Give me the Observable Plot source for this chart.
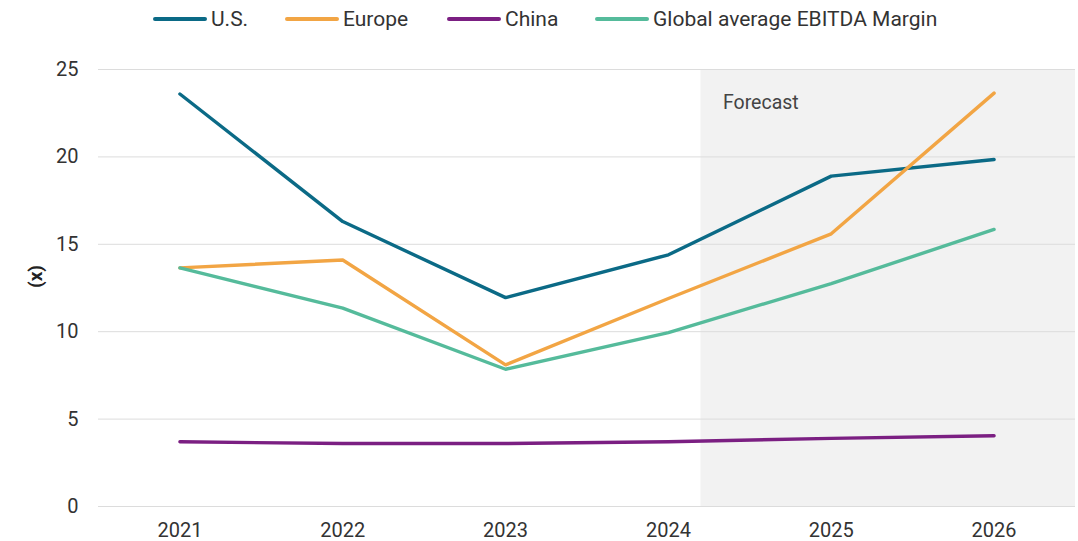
<!DOCTYPE html>
<html>
<head>
<meta charset="utf-8">
<script src="https://cdn.jsdelivr.net/npm/d3@7"></script>
<script src="https://cdn.jsdelivr.net/npm/@observablehq/plot@0.6"></script>
<style>
  html, body { margin: 0; padding: 0; background: #fff; }
  body { width: 1078px; height: 541px; overflow: hidden; font-family: Roboto, "Open Sans", sans-serif; color: #333; }
  #legend { position: relative; height: 40px; }
  .item { position: absolute; top: 4px; height: 30px; display: flex; align-items: center; font-size: 21px; color: #333; white-space: nowrap; }
  .swatch { width: 54px; height: 4px; border-radius: 2px; margin-right: 4px; }
  #chart svg { display: block; }
</style>
</head>
<body>
<div id="legend"></div>
<div id="chart"></div>
<script>
const years = [2021, 2022, 2023, 2024, 2025, 2026];
const seriesNames = ["U.S.", "Europe", "China", "Global average EBITDA Margin"];
const seriesColors = ["#0b6a86", "#f2a544", "#7b1f82", "#55bb9b"];
const usValues = [23.6, 16.3, 11.95, 14.4, 18.9, 19.85];
const europeValues = [13.65, 14.1, 8.1, 11.9, 15.6, 23.65];
const chinaValues = [3.7, 3.6, 3.6, 3.7, 3.9, 4.05];
const globalValues = [13.65, 11.35, 7.85, 9.95, 12.75, 15.85];
const yTicks = [0, 5, 10, 15, 20, 25];
const forecastStart = 2024.2;
const forecastLabel = "Forecast";
const yLabel = "(x)";

const valueLists = [usValues, europeValues, chinaValues, globalValues];
const data = [];
seriesNames.forEach((s, i) => years.forEach((yr, j) => data.push({series: s, year: yr, value: valueLists[i][j]})));

// legend
const legendX = [153, 285, 447, 595];
const legend = document.getElementById("legend");
seriesNames.forEach((s, i) => {
  const d = document.createElement("div");
  d.className = "item";
  d.style.left = legendX[i] + "px";
  d.innerHTML = `<span class="swatch" style="background:${seriesColors[i]}"></span><span>${s}</span>`;
  legend.appendChild(d);
});

const chart = Plot.plot({
  width: 1078,
  height: 501,
  marginLeft: 98,
  marginRight: 3,
  marginTop: 29,
  marginBottom: 35,
  style: {fontFamily: "Roboto, 'Open Sans', sans-serif", fontSize: "20px", color: "#333", background: "transparent"},
  x: {domain: [2020.5, 2026.5]},
  y: {domain: [0, 25]},
  color: {domain: seriesNames, range: seriesColors},
  marks: [
    Plot.rect([{x1: forecastStart, x2: 2026.5, y1: -0.06, y2: 25}], {x1: "x1", x2: "x2", y1: "y1", y2: "y2", fill: "#f2f2f2"}),
    Plot.gridY(yTicks, {stroke: "#dcdcdc", strokeOpacity: 1, strokeWidth: 1}),
    Plot.axisY(yTicks, {tickSize: 0, tickPadding: 20, label: null, fontSize: 20, fill: "#333"}),
    Plot.axisX(years, {tickSize: 0, tickPadding: 16, label: null, tickFormat: d => String(d), fontSize: 20, fill: "#333"}),
    Plot.text([yLabel], {frameAnchor: "left", dx: -63, rotate: -90, text: d => d, fontWeight: "bold", fontSize: 19, fill: "#222"}),
    Plot.text([{x: 2024.335, y: 23.1, t: forecastLabel}], {x: "x", y: "y", text: "t", textAnchor: "start", fontSize: 19.5, fill: "#444"}),
    Plot.line(data, {x: "year", y: "value", z: "series", stroke: "series", strokeWidth: 3.4, strokeLinecap: "round", strokeLinejoin: "round"})
  ]
});
document.getElementById("chart").appendChild(chart);
</script>
</body>
</html>
